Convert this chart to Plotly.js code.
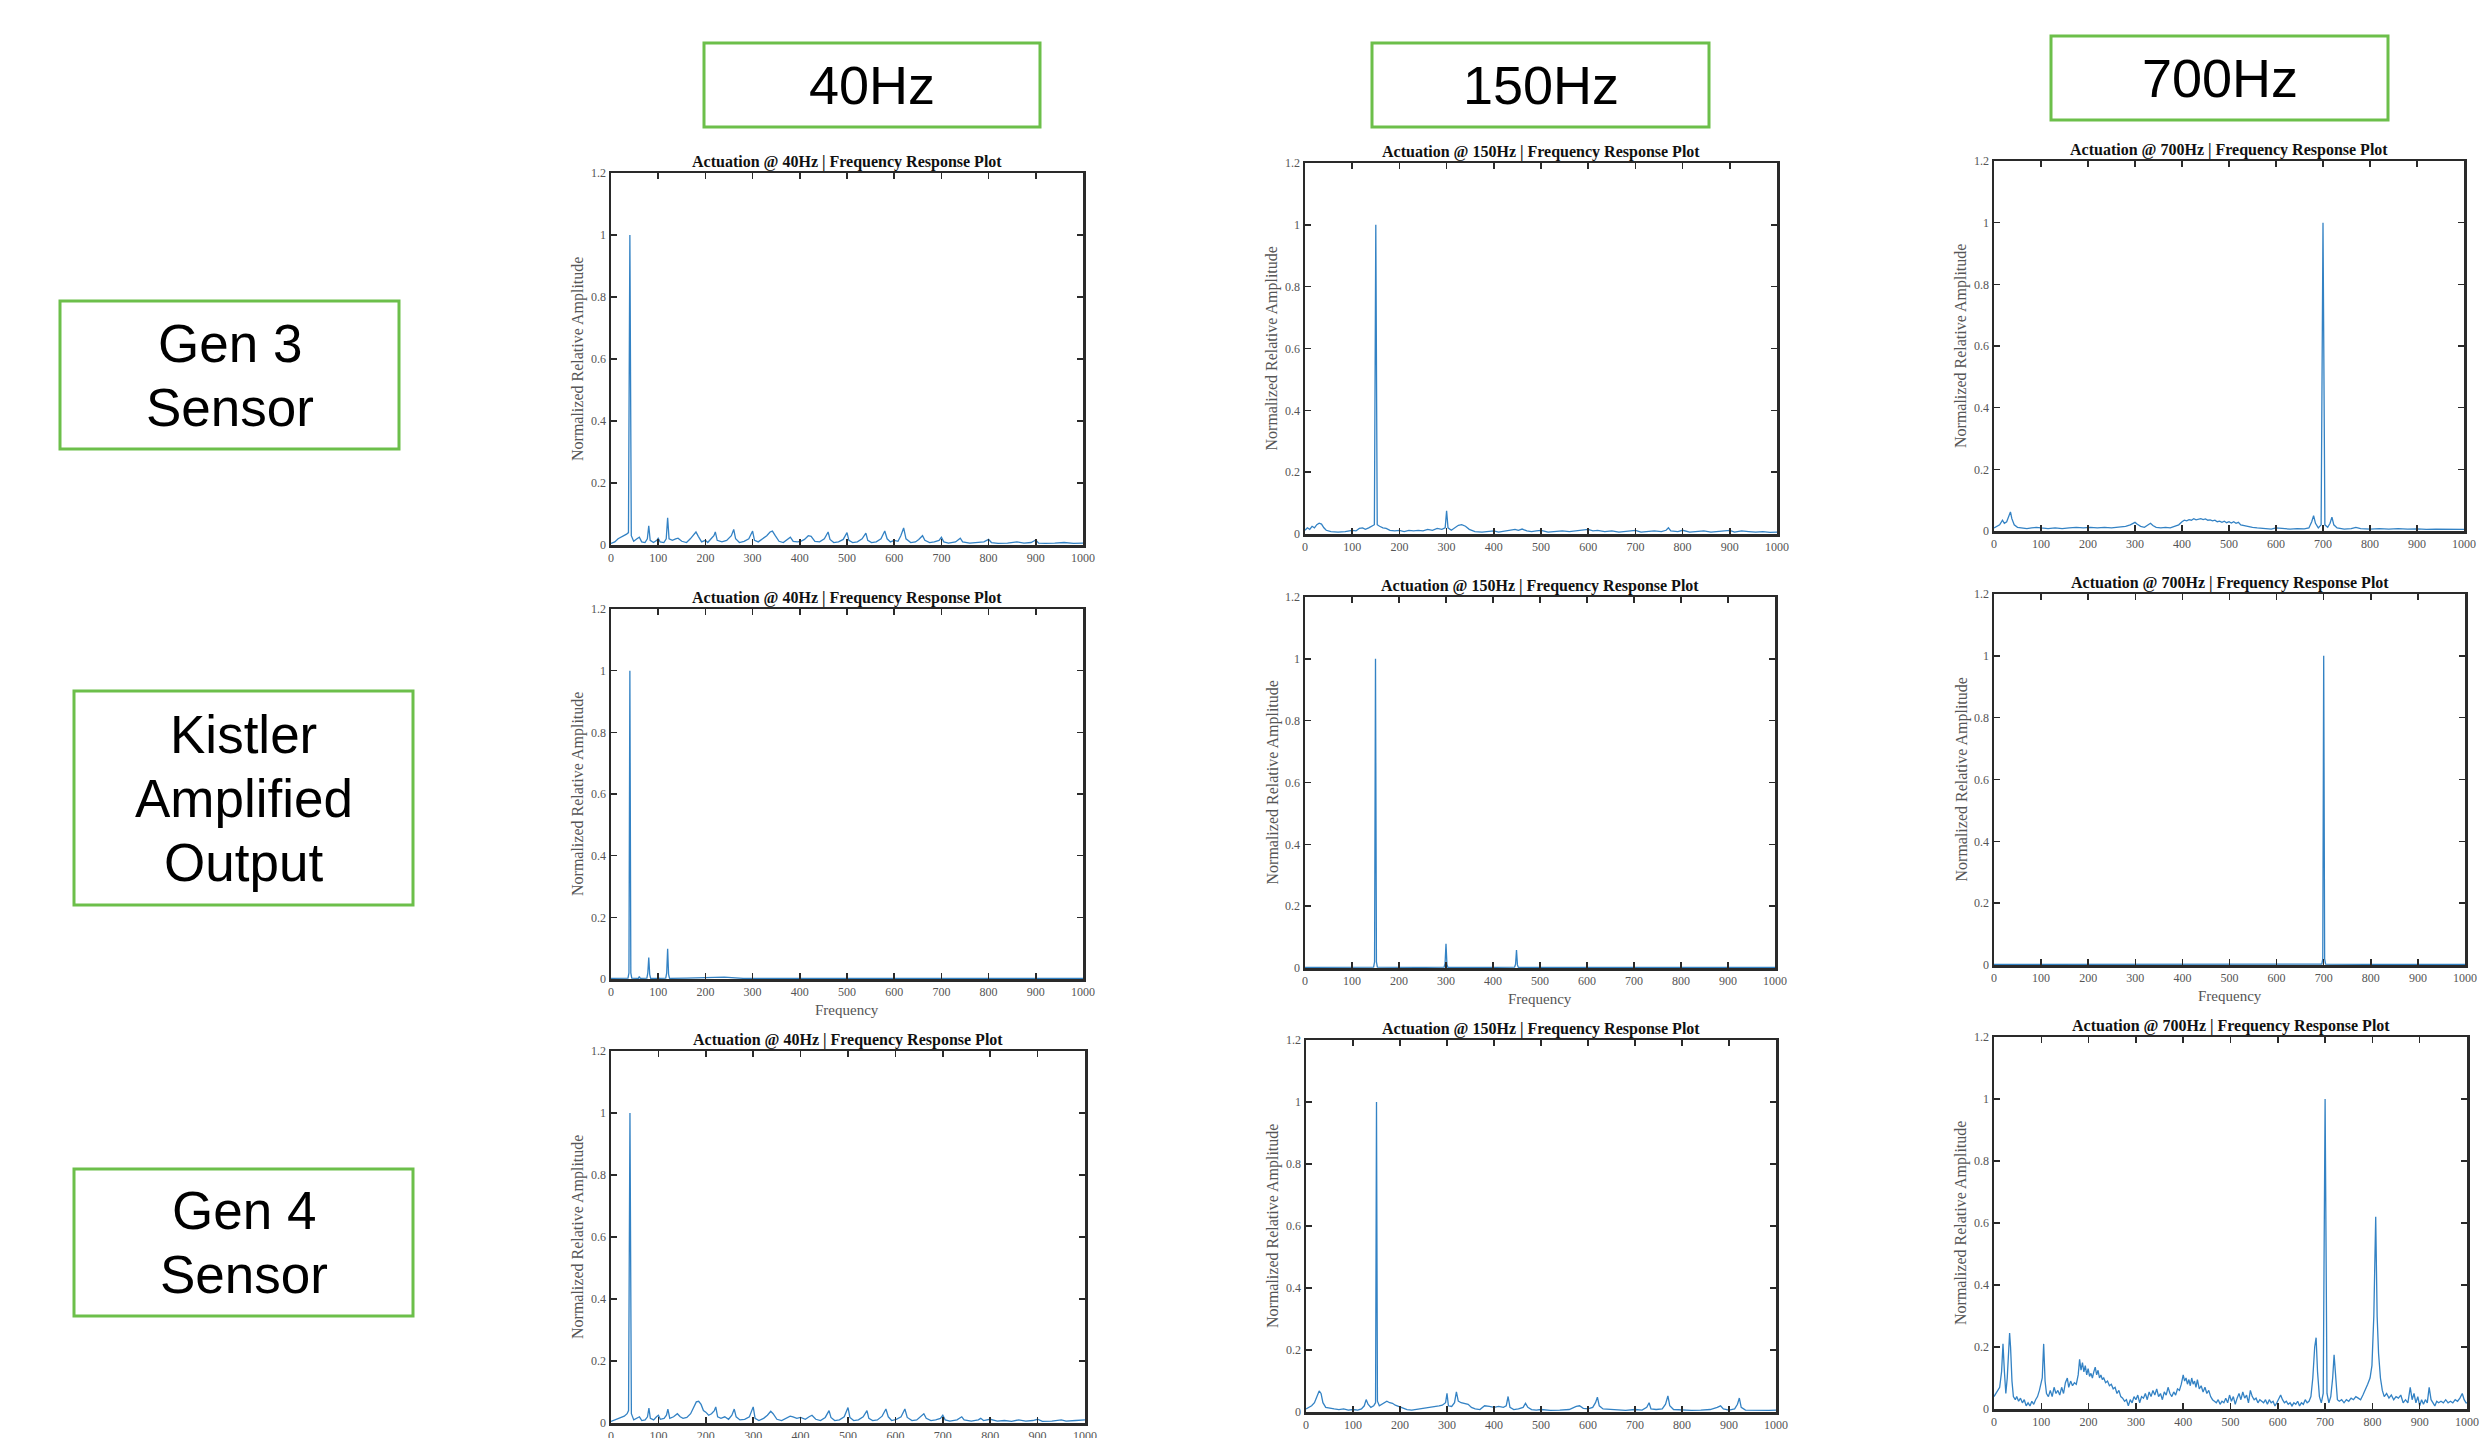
<!DOCTYPE html>
<html>
<head>
<meta charset="utf-8">
<script src="https://cdn.plot.ly/plotly-3.0.1.min.js"></script>
<style>
  html, body { margin: 0; padding: 0; background: #ffffff; }
  #chart { width: 2481px; height: 1438px; }
</style>
</head>
<body>
<div id="chart"></div>
<script>
// ---------------- DATA ----------------
const columnLabels = ["40Hz", "150Hz", "700Hz"];
const rowLabelLines = [["Gen 3", "Sensor"], ["Kistler", "Amplified", "Output"], ["Gen 4", "Sensor"]];
const plotTitles = [
  "Actuation @ 40Hz | Frequency Response Plot",
  "Actuation @ 150Hz | Frequency Response Plot",
  "Actuation @ 700Hz | Frequency Response Plot"
];
const yTitle = "Normalized Relative Amplitude";
const xTitle = "Frequency";
const freqTicks = [0, 100, 200, 300, 400, 500, 600, 700, 800, 900, 1000];
const ampTicks = [0, 0.2, 0.4, 0.6, 0.8, 1, 1.2];
const ampTickText = ["0", "0.2", "0.4", "0.6", "0.8", "1", "1.2"];

// [frequency, normalized amplitude] pairs
const gen3_40Hz = [[0,0.005],[8,0.01],[15,0.02],[22,0.025],[28,0.03],[33,0.035],[37,0.04],[40,1.0],[43,0.03],[48,0.012],[55,0.02],[60,0.025],[65,0.01],[72,0.008],[77,0.02],[80,0.062],[83,0.015],[90,0.008],[97,0.015],[100,0.022],[104,0.01],[112,0.008],[117,0.02],[120,0.088],[123,0.02],[130,0.015],[137,0.02],[142,0.022],[150,0.012],[160,0.008],[168,0.02],[175,0.035],[180,0.042],[185,0.028],[192,0.01],[200,0.015],[205,0.008],[212,0.02],[218,0.03],[221,0.042],[225,0.015],[235,0.01],[245,0.015],[255,0.03],[260,0.05],[264,0.02],[272,0.008],[282,0.012],[292,0.02],[300,0.045],[304,0.015],[312,0.01],[322,0.02],[330,0.03],[337,0.042],[342,0.045],[348,0.03],[356,0.012],[365,0.008],[375,0.02],[380,0.025],[386,0.012],[395,0.01],[402,0.012],[410,0.018],[418,0.03],[424,0.028],[432,0.012],[442,0.01],[452,0.02],[460,0.042],[464,0.018],[472,0.008],[482,0.01],[492,0.018],[500,0.04],[504,0.015],[512,0.008],[522,0.01],[532,0.02],[540,0.038],[544,0.015],[552,0.008],[562,0.01],[572,0.02],[580,0.045],[585,0.02],[592,0.01],[600,0.015],[608,0.012],[614,0.03],[620,0.055],[625,0.02],[635,0.008],[645,0.01],[652,0.018],[660,0.03],[665,0.015],[675,0.008],[685,0.01],[695,0.015],[700,0.025],[705,0.01],[715,0.006],[730,0.01],[740,0.022],[745,0.01],[760,0.006],[775,0.008],[790,0.01],[800,0.018],[806,0.008],[820,0.005],[840,0.006],[860,0.01],[875,0.006],[890,0.008],[900,0.016],[906,0.006],[920,0.005],[940,0.006],[960,0.008],[980,0.005],[1000,0.006]];

const gen3_150Hz = [[0,0.012],[5,0.02],[10,0.015],[15,0.025],[20,0.02],[25,0.03],[30,0.035],[35,0.032],[40,0.02],[45,0.012],[55,0.008],[70,0.006],[85,0.008],[100,0.012],[108,0.01],[115,0.018],[122,0.02],[128,0.015],[135,0.02],[142,0.025],[147,0.03],[150,1.0],[153,0.03],[158,0.025],[165,0.02],[172,0.018],[180,0.012],[190,0.01],[200,0.012],[210,0.008],[220,0.012],[230,0.01],[240,0.012],[250,0.01],[260,0.015],[270,0.012],[280,0.018],[290,0.015],[297,0.02],[300,0.075],[303,0.02],[310,0.012],[318,0.02],[325,0.028],[332,0.03],[340,0.025],[348,0.015],[360,0.008],[375,0.006],[390,0.008],[400,0.01],[410,0.006],[425,0.01],[435,0.012],[445,0.015],[452,0.012],[460,0.016],[470,0.01],[480,0.008],[490,0.01],[500,0.012],[515,0.006],[530,0.008],[545,0.01],[560,0.008],[575,0.01],[590,0.012],[600,0.015],[610,0.01],[620,0.012],[635,0.008],[650,0.01],[665,0.006],[680,0.008],[700,0.012],[712,0.006],[725,0.008],[740,0.01],[755,0.008],[765,0.012],[770,0.02],[775,0.01],[790,0.008],[800,0.012],[815,0.006],[830,0.008],[845,0.01],[860,0.006],[875,0.008],[890,0.01],[900,0.012],[910,0.006],[925,0.01],[940,0.008],[955,0.006],[970,0.008],[985,0.005],[1000,0.006]];

const gen3_700Hz = [[0,0.01],[6,0.015],[12,0.02],[18,0.035],[22,0.025],[27,0.03],[32,0.055],[35,0.062],[38,0.04],[43,0.02],[50,0.012],[60,0.01],[70,0.008],[80,0.01],[90,0.012],[100,0.01],[115,0.008],[130,0.01],[145,0.008],[160,0.01],[175,0.012],[190,0.01],[205,0.012],[220,0.01],[235,0.012],[250,0.01],[265,0.012],[280,0.015],[290,0.02],[295,0.025],[300,0.028],[305,0.022],[312,0.015],[320,0.012],[328,0.02],[333,0.025],[338,0.018],[345,0.012],[355,0.01],[365,0.012],[375,0.01],[385,0.015],[393,0.02],[400,0.03],[405,0.035],[410,0.033],[415,0.037],[420,0.035],[425,0.04],[430,0.036],[435,0.038],[440,0.04],[445,0.037],[450,0.039],[455,0.035],[460,0.036],[465,0.033],[470,0.035],[475,0.03],[480,0.032],[485,0.028],[490,0.032],[495,0.027],[500,0.03],[505,0.026],[510,0.03],[515,0.025],[520,0.028],[525,0.02],[530,0.018],[540,0.015],[550,0.012],[560,0.01],[575,0.008],[590,0.006],[600,0.01],[615,0.008],[630,0.006],[645,0.008],[660,0.007],[670,0.01],[676,0.03],[680,0.05],[684,0.025],[690,0.01],[696,0.02],[700,1.0],[704,0.02],[710,0.012],[715,0.025],[719,0.045],[723,0.02],[730,0.01],[745,0.006],[760,0.008],[770,0.012],[780,0.008],[800,0.006],[820,0.008],[840,0.006],[860,0.008],[880,0.006],[900,0.007],[920,0.005],[940,0.006],[960,0.005],[980,0.006],[1000,0.005]];

const kistler_40Hz = [[0,0.002],[20,0.002],[36,0.003],[38,0.02],[40,1.0],[42,0.02],[44,0.003],[58,0.002],[60,0.008],[62,0.002],[76,0.003],[78,0.02],[80,0.07],[82,0.015],[84,0.002],[98,0.002],[100,0.006],[102,0.002],[116,0.003],[118,0.02],[120,0.098],[122,0.015],[124,0.002],[160,0.003],[200,0.004],[240,0.006],[280,0.002],[400,0.002],[600,0.002],[800,0.002],[1000,0.002]];

const kistler_150Hz = [[0,0.002],[60,0.003],[100,0.002],[146,0.003],[148,0.02],[150,1.0],[152,0.02],[154,0.003],[250,0.002],[296,0.003],[298,0.015],[300,0.078],[302,0.012],[304,0.002],[400,0.002],[446,0.003],[448,0.012],[450,0.058],[452,0.01],[454,0.002],[600,0.002],[800,0.002],[1000,0.002]];

const kistler_700Hz = [[0,0.002],[200,0.002],[400,0.002],[600,0.002],[696,0.003],[698,0.02],[700,1.0],[702,0.02],[704,0.003],[800,0.002],[1000,0.002]];

const gen4_40Hz = [[0,0.005],[8,0.01],[15,0.015],[22,0.02],[28,0.022],[34,0.03],[37,0.04],[40,1.0],[43,0.03],[48,0.01],[55,0.015],[60,0.02],[65,0.008],[72,0.01],[77,0.02],[80,0.048],[83,0.015],[90,0.01],[96,0.02],[100,0.025],[104,0.012],[112,0.015],[117,0.025],[120,0.045],[124,0.015],[132,0.02],[140,0.03],[146,0.02],[152,0.015],[160,0.018],[168,0.03],[175,0.055],[180,0.068],[185,0.07],[190,0.06],[195,0.04],[200,0.035],[206,0.025],[212,0.03],[218,0.04],[221,0.052],[225,0.02],[232,0.015],[240,0.02],[248,0.012],[255,0.025],[260,0.045],[264,0.02],[272,0.01],[282,0.012],[292,0.02],[300,0.052],[304,0.015],[312,0.008],[322,0.015],[330,0.025],[337,0.038],[342,0.03],[350,0.012],[360,0.008],[370,0.015],[378,0.022],[384,0.02],[392,0.015],[400,0.018],[410,0.012],[418,0.02],[424,0.025],[432,0.012],[442,0.008],[452,0.018],[460,0.04],[464,0.018],[472,0.008],[482,0.01],[492,0.02],[500,0.05],[504,0.018],[512,0.008],[522,0.01],[532,0.02],[540,0.04],[544,0.015],[552,0.008],[562,0.01],[572,0.022],[580,0.045],[585,0.02],[592,0.008],[602,0.012],[612,0.02],[620,0.045],[625,0.018],[635,0.008],[645,0.01],[652,0.018],[660,0.03],[665,0.015],[675,0.008],[685,0.01],[695,0.015],[700,0.025],[705,0.01],[715,0.006],[730,0.01],[740,0.02],[745,0.01],[760,0.006],[775,0.01],[780,0.015],[786,0.008],[800,0.012],[815,0.006],[830,0.008],[845,0.005],[860,0.01],[875,0.006],[890,0.008],[900,0.012],[910,0.005],[930,0.006],[950,0.01],[960,0.006],[980,0.008],[1000,0.01]];

const gen4_150Hz = [[0,0.01],[6,0.015],[12,0.02],[18,0.03],[24,0.05],[28,0.068],[32,0.06],[36,0.03],[42,0.015],[50,0.012],[60,0.01],[70,0.008],[80,0.01],[90,0.006],[100,0.008],[110,0.006],[118,0.01],[124,0.02],[128,0.04],[132,0.025],[138,0.015],[144,0.02],[148,0.03],[150,1.0],[152,0.035],[156,0.02],[162,0.025],[168,0.03],[172,0.035],[178,0.03],[184,0.028],[190,0.022],[198,0.018],[206,0.012],[215,0.008],[225,0.006],[235,0.008],[245,0.01],[255,0.012],[265,0.014],[275,0.018],[283,0.02],[290,0.022],[297,0.03],[300,0.06],[303,0.02],[310,0.018],[316,0.03],[320,0.065],[324,0.035],[330,0.03],[338,0.028],[345,0.025],[352,0.015],[360,0.01],[370,0.008],[380,0.02],[390,0.018],[400,0.015],[410,0.018],[420,0.015],[426,0.02],[430,0.05],[434,0.015],[442,0.008],[452,0.01],[462,0.015],[467,0.028],[472,0.015],[480,0.008],[490,0.006],[500,0.008],[520,0.005],[540,0.006],[560,0.008],[575,0.018],[582,0.02],[590,0.012],[600,0.01],[610,0.015],[616,0.03],[620,0.048],[624,0.02],[632,0.01],[645,0.008],[660,0.006],[680,0.005],[700,0.008],[715,0.006],[725,0.015],[730,0.03],[734,0.01],[745,0.008],[758,0.01],[765,0.025],[770,0.052],[774,0.02],[782,0.008],[800,0.006],[820,0.005],[840,0.006],[860,0.008],[875,0.015],[882,0.02],[888,0.01],[900,0.006],[912,0.01],[918,0.025],[922,0.045],[926,0.015],[935,0.006],[950,0.005],[970,0.006],[985,0.005],[1000,0.006]];

const gen4_700Hz = [[0,0.04],[4,0.05],[8,0.06],[12,0.07],[16,0.12],[19,0.21],[22,0.12],[25,0.05],[28,0.1],[31,0.2],[33,0.245],[35,0.2],[38,0.09],[41,0.04],[45,0.03],[48,0.04],[52,0.025],[56,0.035],[60,0.02],[64,0.03],[68,0.01],[72,0.02],[76,0.01],[80,0.025],[84,0.015],[88,0.03],[92,0.04],[96,0.06],[99,0.08],[102,0.1],[105,0.21],[108,0.09],[111,0.05],[115,0.04],[119,0.06],[123,0.04],[127,0.07],[131,0.05],[135,0.06],[139,0.045],[143,0.07],[147,0.05],[151,0.085],[155,0.1],[158,0.07],[162,0.09],[166,0.075],[170,0.085],[174,0.08],[178,0.11],[181,0.16],[184,0.125],[187,0.15],[190,0.12],[193,0.14],[196,0.11],[199,0.13],[202,0.105],[205,0.115],[208,0.1],[211,0.12],[214,0.135],[217,0.11],[220,0.125],[223,0.1],[226,0.11],[229,0.095],[232,0.1],[236,0.085],[240,0.09],[244,0.075],[248,0.08],[252,0.065],[256,0.07],[260,0.05],[264,0.06],[268,0.04],[272,0.035],[276,0.025],[280,0.03],[284,0.01],[288,0.03],[292,0.02],[296,0.04],[300,0.03],[304,0.045],[308,0.02],[312,0.04],[316,0.035],[320,0.05],[324,0.03],[328,0.055],[332,0.04],[336,0.06],[340,0.045],[344,0.065],[348,0.04],[352,0.05],[356,0.03],[360,0.055],[364,0.045],[368,0.07],[372,0.05],[376,0.04],[380,0.055],[384,0.045],[388,0.065],[392,0.06],[396,0.08],[400,0.11],[403,0.09],[406,0.1],[409,0.08],[412,0.095],[415,0.075],[418,0.1],[421,0.08],[424,0.09],[427,0.07],[430,0.095],[434,0.065],[438,0.075],[442,0.055],[446,0.07],[450,0.05],[454,0.06],[458,0.04],[462,0.03],[466,0.025],[470,0.02],[474,0.03],[478,0.015],[482,0.025],[486,0.02],[490,0.035],[494,0.02],[498,0.045],[502,0.025],[506,0.04],[510,0.015],[514,0.035],[518,0.05],[522,0.03],[526,0.055],[530,0.035],[534,0.045],[538,0.02],[542,0.06],[546,0.04],[550,0.03],[554,0.035],[558,0.02],[562,0.03],[566,0.025],[570,0.02],[574,0.03],[578,0.015],[582,0.03],[586,0.02],[590,0.025],[594,0.01],[598,0.02],[602,0.035],[606,0.045],[610,0.03],[614,0.02],[618,0.025],[622,0.015],[626,0.02],[630,0.01],[634,0.02],[638,0.015],[642,0.025],[646,0.01],[650,0.02],[654,0.015],[658,0.03],[662,0.02],[666,0.025],[670,0.04],[674,0.1],[678,0.2],[681,0.23],[684,0.12],[688,0.04],[692,0.02],[696,0.05],[700,1.0],[704,0.05],[708,0.02],[712,0.04],[716,0.1],[719,0.175],[722,0.1],[726,0.03],[730,0.025],[735,0.03],[740,0.02],[745,0.03],[750,0.025],[755,0.035],[760,0.03],[765,0.04],[770,0.035],[775,0.03],[780,0.045],[785,0.06],[790,0.08],[795,0.1],[799,0.14],[803,0.3],[807,0.62],[810,0.3],[813,0.18],[817,0.1],[821,0.06],[825,0.04],[830,0.05],[835,0.035],[840,0.045],[845,0.03],[850,0.04],[855,0.035],[860,0.045],[865,0.02],[870,0.03],[875,0.02],[880,0.07],[884,0.03],[888,0.05],[892,0.02],[896,0.04],[900,0.01],[904,0.03],[908,0.015],[912,0.03],[916,0.02],[920,0.07],[924,0.03],[928,0.02],[932,0.01],[936,0.025],[940,0.02],[945,0.025],[950,0.02],[955,0.03],[960,0.02],[965,0.025],[970,0.02],[975,0.03],[980,0.025],[985,0.035],[990,0.05],[994,0.03],[998,0.02],[1000,0.02]];

// panels in row-major order: rows = sensors, columns = actuation frequency
const panelSeries = [
  gen3_40Hz, gen3_150Hz, gen3_700Hz,
  kistler_40Hz, kistler_150Hz, kistler_700Hz,
  gen4_40Hz, gen4_150Hz, gen4_700Hz
];

// ---------------- LAYOUT ----------------
const W = 2481, H = 1438;
// axes boxes in pixels: [left, right, top, bottom]
const axBoxes = [
  [611, 1083, 173, 545], [1305, 1777, 163, 534], [1994, 2464, 161, 531],
  [611, 1083, 609, 979], [1305, 1775, 597, 968], [1994, 2465, 594, 965],
  [611, 1085, 1051, 1423], [1306, 1776, 1040, 1412], [1994, 2467, 1037, 1409]
];
// label boxes in pixels: [left, right, top, bottom]
const colBoxes = [[704, 1040, 43, 127], [1372, 1709, 43, 127], [2051, 2388, 36, 120]];
const rowBoxes = [[60, 399, 301, 449], [74, 413, 691, 905], [74, 413, 1169, 1316]];
const rowLineGap = 64;

const px = v => v / W;
const py = v => 1 - v / H;

const lineColor = '#3382c4';
const frameColor = '#2a2a2a';
const serif = 'Liberation Serif, Times New Roman, serif';
const sans = 'Liberation Sans, Arial, sans-serif';
const green = '#6cbf4a';

const traces = [];
const layout = {
  width: W, height: H,
  margin: {l: 0, r: 0, t: 0, b: 0},
  paper_bgcolor: '#ffffff',
  plot_bgcolor: '#ffffff',
  showlegend: false,
  annotations: [],
  shapes: []
};

panelSeries.forEach((series, i) => {
  const n = i === 0 ? '' : String(i + 1);
  const b = axBoxes[i];
  traces.push({
    type: 'scatter', mode: 'lines',
    x: series.map(p => p[0]),
    y: series.map(p => p[1]),
    xaxis: 'x' + n, yaxis: 'y' + n,
    line: {color: lineColor, width: 1.3},
    hoverinfo: 'skip'
  });
  const common = {
    showline: true, linecolor: frameColor, linewidth: 2.5, mirror: 'ticks',
    ticks: 'inside', ticklen: 6, tickwidth: 1.5, tickcolor: frameColor,
    showgrid: false, zeroline: false, fixedrange: true,
    tickfont: {family: serif, size: 12, color: '#555555'}
  };
  layout['xaxis' + n] = Object.assign({}, common, {
    domain: [px(b[0]), px(b[1])], anchor: 'y' + n,
    range: [0, 1000], tickmode: 'array', tickvals: freqTicks
  });
  layout['yaxis' + n] = Object.assign({}, common, {
    domain: [py(b[3]), py(b[2])], anchor: 'x' + n,
    range: [0, 1.2], tickmode: 'array', tickvals: ampTicks, ticktext: ampTickText
  });
  // panel title
  layout.annotations.push({
    xref: 'paper', yref: 'paper', x: px((b[0] + b[1]) / 2), y: py(b[2]),
    xanchor: 'center', yanchor: 'bottom', showarrow: false,
    text: '<b>' + plotTitles[i % 3] + '</b>',
    font: {family: serif, size: 16, color: '#111111'}
  });
  // y axis title
  layout.annotations.push({
    xref: 'paper', yref: 'paper', x: px(b[0] - 33), y: py((b[2] + b[3]) / 2),
    xanchor: 'center', yanchor: 'middle', showarrow: false, textangle: -90,
    text: yTitle, font: {family: serif, size: 16, color: '#555555'}
  });
  // x axis title (visible only on middle row in the reference)
  if (Math.floor(i / 3) === 1) {
    layout.annotations.push({
      xref: 'paper', yref: 'paper', x: px((b[0] + b[1]) / 2), y: py(b[3] + 31),
      xanchor: 'center', yanchor: 'middle', showarrow: false,
      text: xTitle, font: {family: serif, size: 15, color: '#555555'}
    });
  }
});

// column header boxes
colBoxes.forEach((b, j) => {
  layout.shapes.push({
    type: 'rect', xref: 'paper', yref: 'paper',
    x0: px(b[0]), x1: px(b[1]), y0: py(b[3]), y1: py(b[2]),
    line: {color: green, width: 3}, fillcolor: 'rgba(0,0,0,0)'
  });
  layout.annotations.push({
    xref: 'paper', yref: 'paper', x: px((b[0] + b[1]) / 2), y: py((b[2] + b[3]) / 2),
    xanchor: 'center', yanchor: 'middle', showarrow: false,
    text: columnLabels[j], font: {family: sans, size: 54, color: '#000000'}
  });
});

// row label boxes, one annotation per text line for exact spacing
rowBoxes.forEach((b, j) => {
  layout.shapes.push({
    type: 'rect', xref: 'paper', yref: 'paper',
    x0: px(b[0]), x1: px(b[1]), y0: py(b[3]), y1: py(b[2]),
    line: {color: green, width: 3}, fillcolor: 'rgba(0,0,0,0)'
  });
  const lines = rowLabelLines[j];
  const cy = (b[2] + b[3]) / 2;
  lines.forEach((t, k) => {
    const ly = cy + (k - (lines.length - 1) / 2) * rowLineGap;
    layout.annotations.push({
      xref: 'paper', yref: 'paper', x: px((b[0] + b[1]) / 2), y: py(ly),
      xanchor: 'center', yanchor: 'middle', showarrow: false,
      text: t, font: {family: sans, size: 53, color: '#000000'}
    });
  });
});

Plotly.newPlot('chart', traces, layout, {displayModeBar: false, staticPlot: true});
</script>
</body>
</html>
